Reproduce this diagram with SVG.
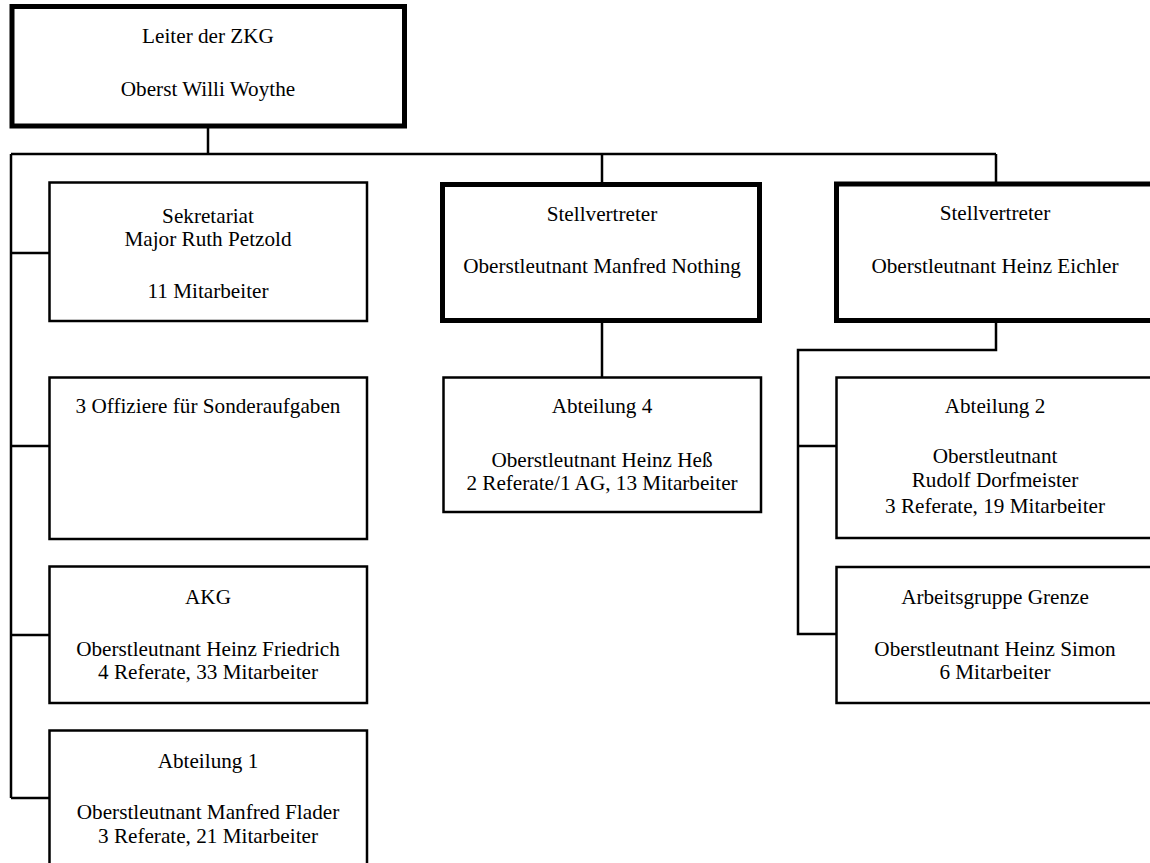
<svg xmlns="http://www.w3.org/2000/svg" width="1150" height="863" viewBox="0 0 1150 863">
<style>
.box{fill:#fff;stroke:#000;stroke-width:2.5}
.thick{fill:#fff;stroke:#000;stroke-width:5}
.ln{fill:none;stroke:#000;stroke-width:2.5}
text{font-family:"Liberation Serif","Times New Roman",serif;font-size:21.2px;fill:#000;text-anchor:middle}
</style>
<rect width="1150" height="863" fill="#fff"/>
<g id="connectors">
<path class="ln" d="M208,128V154M11,154H996M11,154V798M11,253H49M11,446H49M11,635H49M11,798H49M602,154V182M996,154V182M602,323V377M996,323V350H798V634H836M798,446H836"/>
</g>
<g id="leiter">
<rect class="thick" x="12" y="6.5" width="392.5" height="119.5"/>
<text x="208" y="43">Leiter der ZKG</text>
<text x="208" y="96">Oberst Willi Woythe</text>
</g>
<g id="sekretariat">
<rect class="box" x="49.5" y="182.5" width="317.5" height="138.5"/>
<text x="208" y="223">Sekretariat</text>
<text x="208" y="246">Major Ruth Petzold</text>
<text x="208" y="298">11 Mitarbeiter</text>
</g>
<g id="offiziere">
<rect class="box" x="49.5" y="377.5" width="317.5" height="161.5"/>
<text x="208" y="413">3 Offiziere für Sonderaufgaben</text>
</g>
<g id="akg">
<rect class="box" x="49.5" y="566.5" width="317.5" height="136.5"/>
<text x="208" y="604">AKG</text>
<text x="208" y="656">Oberstleutnant Heinz Friedrich</text>
<text x="208" y="679">4 Referate, 33 Mitarbeiter</text>
</g>
<g id="abteilung1">
<rect class="box" x="49.5" y="730.5" width="317.5" height="145"/>
<text x="208" y="768">Abteilung 1</text>
<text x="208" y="819">Oberstleutnant Manfred Flader</text>
<text x="208" y="843">3 Referate, 21 Mitarbeiter</text>
</g>
<g id="stellvertreter1">
<rect class="thick" x="442.5" y="184.5" width="317" height="136"/>
<text x="602" y="221">Stellvertreter</text>
<text x="602" y="273">Oberstleutnant Manfred Nothing</text>
</g>
<g id="abteilung4">
<rect class="box" x="443.5" y="377.5" width="317.5" height="134.5"/>
<text x="602" y="413">Abteilung 4</text>
<text x="602" y="467">Oberstleutnant Heinz Heß</text>
<text x="602" y="490">2 Referate/1 AG, 13 Mitarbeiter</text>
</g>
<g id="stellvertreter2">
<rect class="thick" x="836.5" y="184" width="320" height="136.5"/>
<text x="995" y="220">Stellvertreter</text>
<text x="995" y="273">Oberstleutnant Heinz Eichler</text>
</g>
<g id="abteilung2">
<rect class="box" x="836.5" y="377.5" width="320" height="160.5"/>
<text x="995" y="413">Abteilung 2</text>
<text x="995" y="463">Oberstleutnant</text>
<text x="995" y="487">Rudolf Dorfmeister</text>
<text x="995" y="513">3 Referate, 19 Mitarbeiter</text>
</g>
<g id="arbeitsgruppe">
<rect class="box" x="836.5" y="567" width="320" height="136"/>
<text x="995" y="604">Arbeitsgruppe Grenze</text>
<text x="995" y="656">Oberstleutnant Heinz Simon</text>
<text x="995" y="679">6 Mitarbeiter</text>
</g>
</svg>
